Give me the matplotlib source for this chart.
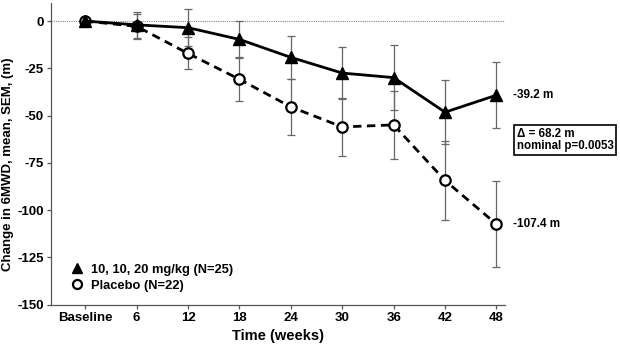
import matplotlib
matplotlib.use("Agg")
import matplotlib.pyplot as plt
from matplotlib.lines import Line2D

plt.rcParams['font.family'] = ['Liberation Sans', 'DejaVu Sans']
plt.rcParams['font.weight'] = 'bold'
plt.rcParams['axes.unicode_minus'] = False

weeks = [0, 6, 12, 18, 24, 30, 36, 42, 48]
tick_labels = ['Baseline', '6', '12', '18', '24', '30', '36', '42', '48']
drug_mean = [0, -2.0, -3.5, -9.7, -19.2, -27.5, -29.9, -48.2, -39.2]
drug_sem = [0, 7.0, 9.8, 9.5, 11.2, 13.6, 17.3, 16.8, 17.5]
placebo_mean = [0, -2.8, -17.1, -30.8, -45.4, -56.0, -54.9, -84.3, -107.4]
placebo_sem = [0, 6.5, 8.5, 11.5, 14.6, 15.5, 18.0, 21.0, 22.7]
drug_label = '10, 10, 20 mg/kg (N=25)'
placebo_label = 'Placebo (N=22)'
drug_end = '-39.2 m'
placebo_end = '-107.4 m'
box_text = '\u0394 = 68.2 m\nnominal p=0.0053'

fig = plt.figure(figsize=(6.2, 3.46), dpi=100)
ax = fig.add_axes([0.0823, 0.1194, 0.7322, 0.8716])

ax.axhline(0, color='#888888', lw=0.8, ls=(0, (1, 1)), zorder=0)

ax.errorbar(weeks, placebo_mean, yerr=placebo_sem, fmt='none', ecolor='#666666',
            elinewidth=0.9, capsize=3.2, capthick=0.9, zorder=1)
ax.errorbar(weeks, drug_mean, yerr=drug_sem, fmt='none', ecolor='#666666',
            elinewidth=0.9, capsize=3.2, capthick=0.9, zorder=1)

ax.plot(weeks, placebo_mean, color='black', lw=2, ls=(0, (3, 2)), marker='o', ms=7.5,
        mfc='white', mec='black', mew=1.6, zorder=3)
ax.plot(weeks, drug_mean, color='black', lw=2, ls='-', marker='^', ms=8,
        mfc='black', mec='black', zorder=4)

ax.text(49.9, drug_mean[-1], drug_end, fontsize=8.5, fontweight='bold', va='center', ha='left', clip_on=False)
ax.text(49.9, placebo_mean[-1], placebo_end, fontsize=8.5, fontweight='bold', va='center', ha='left', clip_on=False)
ax.text(50.4, -63.0, box_text, fontsize=8.3, fontweight='bold', va='center', ha='left', clip_on=False,
        linespacing=1.05,
        bbox=dict(boxstyle='square,pad=0.22', fc='white', ec='black', lw=1.2))

ax.set_xlim(-4, 49)
ax.set_ylim(-150, 9.5)
ax.set_xticks(weeks)
ax.set_xticklabels(tick_labels)
ax.set_yticks([0, -25, -50, -75, -100, -125, -150])
ax.tick_params(labelsize=9.5, width=0.9, length=3, color='#555555', pad=2)
for lab in ax.get_xticklabels() + ax.get_yticklabels():
    lab.set_fontweight('bold')
ax.spines['top'].set_visible(False)
ax.spines['right'].set_visible(False)
for s in ['left', 'bottom']:
    ax.spines[s].set_color('#555555')
    ax.spines[s].set_linewidth(0.9)

ax.set_xlabel('Time (weeks)', fontsize=10.5, fontweight='bold', labelpad=4)
ax.set_ylabel('Change in 6MWD, mean, SEM, (m)', fontsize=9.5, fontweight='bold')
ax.yaxis.set_label_coords(-0.081, 0.465)

handles = [Line2D([], [], color='black', marker='^', ms=7, lw=0, mfc='black'),
           Line2D([], [], color='black', marker='o', ms=6.5, lw=0, mfc='white', mew=1.6)]
leg = ax.legend(handles, [drug_label, placebo_label], loc='lower left',
                bbox_to_anchor=(0.018, 0.005), frameon=False, fontsize=9.3,
                handlelength=1.0, handletextpad=0.6, labelspacing=0.3)
for t in leg.get_texts():
    t.set_fontweight('bold')

fig.savefig('out.png', dpi=100)
